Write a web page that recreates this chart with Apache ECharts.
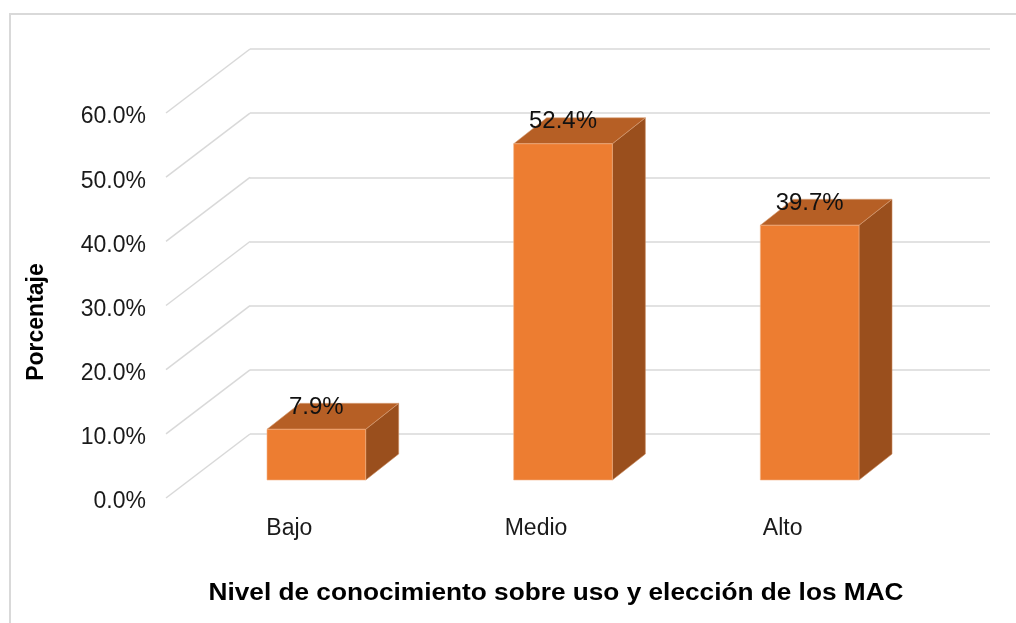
<!DOCTYPE html>
<html>
<head>
<meta charset="utf-8">
<script src="https://cdn.jsdelivr.net/npm/echarts@6/dist/echarts.min.js"></script>
<style>
html,body{margin:0;padding:0;background:#fff;}
#c{width:1016px;height:623px;}
</style>
</head>
<body>
<div id="c"></div>
<script>
const categories = ['Bajo', 'Medio', 'Alto'];
const values = [7.9, 52.4, 39.7];
const yTicks = [0, 10, 20, 30, 40, 50, 60];
const yTitle = 'Porcentaje';
const xTitle = 'Nivel de conocimiento sobre uso y elección de los MAC';

const FONT = "'Liberation Sans', Arial, sans-serif";
const DEPTH = [-84, 64];      // wall depth projection
const FRONT = [-57, 46];      // bar front face offset from back wall
const BAR_DEPTH = [33, -26];  // bar depth

const chart = echarts.init(document.getElementById('c'), null, {renderer: 'canvas'});

const hiddenCat = {type: 'category', data: categories, axisLine: {show: false}, axisTick: {show: false}, axisLabel: {show: false}, splitLine: {show: false}};
const hiddenVal = {type: 'value', min: 0, max: 60, interval: 10, axisLine: {show: false}, axisTick: {show: false}, axisLabel: {show: false}, splitLine: {show: false}};

const option = {
  backgroundColor: '#ffffff',
  animation: false,
  grid: [
    {left: 250, right: 26, top: 49, bottom: 189},
    {left: 166, right: 110, top: 113, bottom: 125},
    {left: 166, right: 110, top: 117, bottom: 121}
  ],
  xAxis: [
    Object.assign({}, hiddenCat, {gridIndex: 0}),
    {type: 'category', gridIndex: 1, data: categories, axisLine: {show: false}, axisTick: {show: false}, splitLine: {show: false},
     axisLabel: {fontFamily: FONT, fontSize: 23, color: '#1a1a1a', margin: 19}},
    Object.assign({}, hiddenCat, {gridIndex: 2})
  ],
  yAxis: [
    {type: 'value', gridIndex: 0, min: 0, max: 60, interval: 10, axisLine: {show: false}, axisTick: {show: false}, axisLabel: {show: false},
     splitLine: {show: true, lineStyle: {color: '#d9d9d9', width: 1.5}}},
    Object.assign({}, hiddenVal, {gridIndex: 1}),
    {type: 'value', gridIndex: 2, min: 0, max: 60, interval: 10, axisLine: {show: false}, axisTick: {show: false}, splitLine: {show: false},
     axisLabel: {fontFamily: FONT, fontSize: 23, color: '#1a1a1a', margin: 20, formatter: v => v.toFixed(1) + '%'}}
  ],
  series: [
    {
      type: 'custom', xAxisIndex: 0, yAxisIndex: 0, silent: true, z: 1,
      data: yTicks.map(v => [0, v]),
      encode: {x: 0, y: 1},
      renderItem: function (params, api) {
        const p = api.coord([0, api.value(1)]);
        const x0 = params.coordSys.x;
        return {
          type: 'line',
          shape: {x1: x0, y1: p[1], x2: x0 + DEPTH[0], y2: p[1] + DEPTH[1]},
          style: {stroke: '#d9d9d9', lineWidth: 1.5}
        };
      }
    },
    {
      type: 'custom', xAxisIndex: 0, yAxisIndex: 0, z: 3,
      data: values.map((v, i) => [i, v]),
      encode: {x: 0, y: 1},
      renderItem: function (params, api) {
        const i = api.value(0), v = api.value(1);
        const top = api.coord([i, v]);
        const base = api.coord([i, 0]);
        const bw = api.size([1, 0])[0] * 0.4;
        const fx0 = top[0] - bw / 2 + FRONT[0];
        const fx1 = fx0 + bw;
        const fy = top[1] + FRONT[1];
        const by = base[1] + FRONT[1];
        const dx = BAR_DEPTH[0], dy = BAR_DEPTH[1];
        return {
          type: 'group',
          children: [
            {type: 'polygon', shape: {points: [[fx1, fy], [fx1 + dx, fy + dy], [fx1 + dx, by + dy], [fx1, by]]},
             style: {fill: '#9A4F1D', stroke: '#c98a5e', lineWidth: 0.6}},
            {type: 'polygon', shape: {points: [[fx0, fy], [fx1, fy], [fx1 + dx, fy + dy], [fx0 + dx, fy + dy]]},
             style: {fill: '#B65F25', stroke: '#d9a27c', lineWidth: 0.6}},
            {type: 'rect', shape: {x: fx0, y: fy, width: bw, height: by - fy},
             style: {fill: '#ED7D31', stroke: '#f3b488', lineWidth: 0.6}},
            {type: 'text', x: (fx0 + fx1) / 2, y: fy + dy + 4,
             style: {text: v.toFixed(1) + '%', fill: '#111111', font: '24px ' + FONT, align: 'center', verticalAlign: 'middle'}}
          ]
        };
      }
    }
  ],
  graphic: [
    {type: 'rect', shape: {x: 10, y: 14, width: 1100, height: 700}, style: {fill: 'none', stroke: '#d9d9d9', lineWidth: 2}, silent: true},
    {type: 'text', x: 37, y: 322, rotation: Math.PI / 2,
     style: {text: yTitle, font: 'bold 23px ' + FONT, fill: '#000', align: 'center', verticalAlign: 'middle'}},
    {type: 'text', x: 556, y: 594, scaleX: 1.14,
     style: {text: xTitle, font: 'bold 23px ' + FONT, fill: '#000', align: 'center', verticalAlign: 'middle'}}
  ]
};
chart.setOption(option);
</script>
</body>
</html>
